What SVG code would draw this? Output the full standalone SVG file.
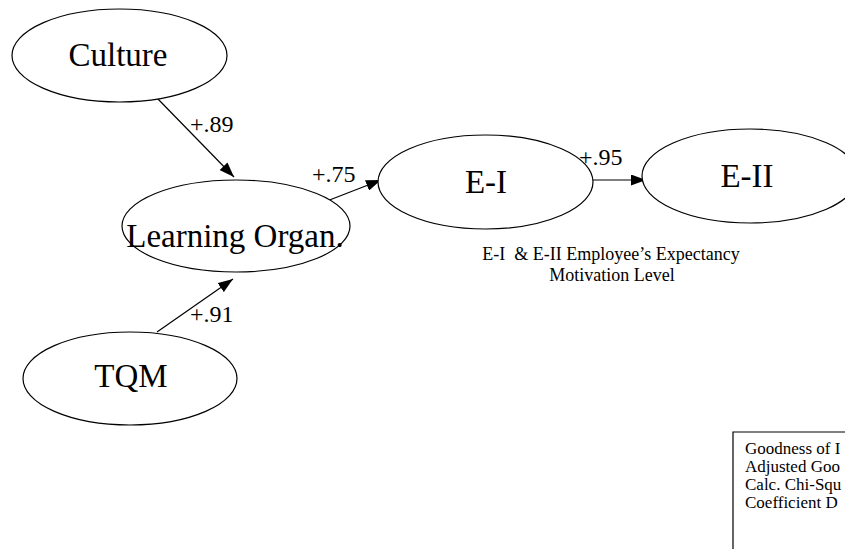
<svg xmlns="http://www.w3.org/2000/svg" width="845" height="549" viewBox="0 0 845 549">
<style>
.node ellipse{fill:#fff;stroke:#000;stroke-width:1.2}
.lbl{font-family:"Liberation Serif","Times New Roman",serif;fill:#000}
.big{font-size:33px;text-anchor:middle}
.coef{font-size:24px}
.small{font-size:18px}
.box{font-size:17px}
.edge{stroke:#000;stroke-width:1.2;fill:none;marker-end:url(#ah)}
</style>
<defs>
<marker id="ah" markerUnits="userSpaceOnUse" markerWidth="15" markerHeight="11" refX="15" refY="5.5" orient="auto">
<path d="M0,0 L15,5.5 L0,11 z" fill="#000"/>
</marker>
</defs>
<rect width="845" height="549" fill="#fff"/>
<g id="connectors">
<line class="edge" x1="157" y1="98" x2="234" y2="177"/>
<line class="edge" x1="327" y1="201" x2="381" y2="180"/>
<line class="edge" x1="157" y1="332" x2="233" y2="279"/>
<line class="edge" x1="590" y1="180" x2="646" y2="180"/>
<text class="lbl coef" x="190" y="132">+.89</text>
<text class="lbl coef" x="312" y="182">+.75</text>
<text class="lbl coef" x="190" y="322">+.91</text>
<text class="lbl coef" x="579" y="165">+.95</text>
</g>
<g id="culture" class="node">
<ellipse cx="119.5" cy="55.5" rx="107.5" ry="46.5"/>
<text class="lbl big" x="118" y="66">Culture</text>
</g>
<g id="learning" class="node">
<ellipse cx="236" cy="226" rx="114" ry="46"/>
<text class="lbl big" x="235" y="247">Learning Organ.</text>
</g>
<g id="tqm" class="node">
<ellipse cx="130" cy="378.5" rx="107" ry="46.5"/>
<text class="lbl big" x="131" y="387">TQM</text>
</g>
<g id="ei" class="node">
<ellipse cx="485.5" cy="182" rx="107.5" ry="47"/>
<text class="lbl big" x="486" y="193">E-I</text>
</g>
<g id="eii" class="node">
<ellipse cx="750" cy="176" rx="108" ry="47"/>
<text class="lbl big" x="747" y="187">E-II</text>
</g>
<g id="caption">
<text class="lbl small" x="611" y="260" text-anchor="middle" xml:space="preserve">E-I  &amp; E-II Employee’s Expectancy</text>
<text class="lbl small" x="612" y="281" text-anchor="middle">Motivation Level</text>
</g>
<g id="fitbox">
<path d="M733,549 L733,432 L845,432" fill="none" stroke="#000" stroke-width="1.2"/>
<text class="lbl box" x="745" y="454">Goodness of I</text>
<text class="lbl box" x="745" y="472">Adjusted Goo</text>
<text class="lbl box" x="745" y="490">Calc. Chi-Squ</text>
<text class="lbl box" x="745" y="508">Coefficient D</text>
</g>
</svg>
